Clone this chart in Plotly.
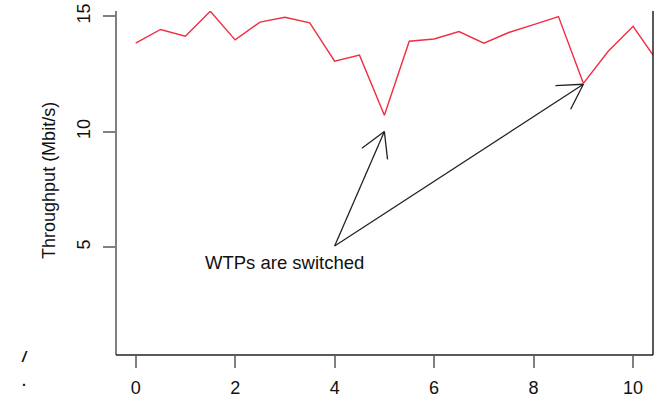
import math
import plotly.graph_objects as go

# Throughput samples (Mbit/s), one every half time unit
time = [0, 0.5, 1, 1.5, 2, 2.5, 3, 3.5, 4, 4.5, 5, 5.5, 6, 6.5, 7, 7.5, 8, 8.5, 9, 9.5, 10, 10.5]
throughput = [13.83, 14.42, 14.13, 15.21, 13.97, 14.74, 14.95, 14.71, 13.05, 13.31, 10.71,
              13.91, 14.01, 14.33, 13.83, 14.29, 14.63, 14.98, 12.09, 13.48, 14.56, 13.0]

x_ticks = [0, 2, 4, 6, 8, 10]
y_ticks = [5, 10, 15]
y_tick_labels = ["5", "10", "15"]

# Switch events: arrow from the caption towards each dip
arrow_tail = (4.0, 5.05)
arrow_tips = [(5.0, 10.0), (9.0, 12.05)]
caption = "WTPs are switched"

W, H = 660, 400
ML, MR, MT, MB = 116, 7, 11, 45
XR = [-0.395, 10.40]
YR = [0.33, 15.22]
PW, PH = W - ML - MR, H - MT - MB

FONT = "Liberation Sans, Arial, Helvetica, sans-serif"


def to_px(x, y):
    px = ML + (x - XR[0]) / (XR[1] - XR[0]) * PW
    py = MT + (YR[1] - y) / (YR[1] - YR[0]) * PH
    return px, py


def to_data(px, py):
    x = XR[0] + (px - ML) / PW * (XR[1] - XR[0])
    y = YR[1] - (py - MT) / PH * (YR[1] - YR[0])
    return x, y


fig = go.Figure()
fig.add_trace(go.Scatter(
    x=time, y=throughput, mode="lines",
    line=dict(color="#f02d44", width=1.4),
    hoverinfo="skip", showlegend=False,
))

shapes = []
arrow_style = dict(color="#222222", width=1.3)
head_len, head_ang = 28, math.radians(30)
for tip in arrow_tips:
    shapes.append(dict(type="line", xref="x", yref="y",
                       x0=arrow_tail[0], y0=arrow_tail[1], x1=tip[0], y1=tip[1],
                       line=arrow_style))
    tx, ty = to_px(*tip)
    sx, sy = to_px(*arrow_tail)
    back = math.atan2(sy - ty, sx - tx)
    for s in (-1, 1):
        a = back + s * head_ang
        hx, hy = to_data(tx + head_len * math.cos(a), ty + head_len * math.sin(a))
        shapes.append(dict(type="line", xref="x", yref="y",
                           x0=tip[0], y0=tip[1], x1=hx, y1=hy, line=arrow_style))

# plot frame: grey left axis line, dark bottom and right edges
shapes.append(dict(type="line", xref="paper", yref="paper", x0=0, y0=0, x1=0, y1=1,
                   line=dict(color="#808080", width=2)))
shapes.append(dict(type="line", xref="paper", yref="paper", x0=0, y0=0, x1=1, y1=0,
                   line=dict(color="#222222", width=1.5)))
shapes.append(dict(type="line", xref="paper", yref="paper", x0=1, y0=0, x1=1, y1=1,
                   line=dict(color="#222222", width=1.5)))

annotations = [
    dict(x=3.0, y=4.32, xref="x", yref="y", text=caption, showarrow=False,
         font=dict(family=FONT, size=18.5, color="#111111")),
    dict(x=0, y=0.506, xref="paper", yref="paper", xshift=-79, text="Throughput (Mbit/s)",
         textangle=-90, showarrow=False, font=dict(family=FONT, size=18, color="#111111")),
    dict(x=0, y=0, xref="paper", yref="paper", xshift=-97, yshift=-12, text="<b><i>/</i></b>",
         showarrow=False, font=dict(family=FONT, size=15, color="#111111")),
    dict(x=0, y=0, xref="paper", yref="paper", xshift=-96, yshift=-36, text="<b>.</b>",
         showarrow=False, font=dict(family=FONT, size=14, color="#111111")),
]

fig.update_layout(
    width=W, height=H,
    margin=dict(l=ML, r=MR, t=MT, b=MB, autoexpand=False),
    paper_bgcolor="white", plot_bgcolor="white",
    shapes=shapes, annotations=annotations,
    xaxis=dict(range=XR, tickvals=x_ticks, ticks="outside", ticklen=12, tickwidth=2,
               tickcolor="#808080", showgrid=False, zeroline=False, showline=False,
               automargin=False,
               tickfont=dict(family=FONT, size=18, color="#111111"), ticklabelstandoff=4),
    yaxis=dict(range=YR, tickvals=y_ticks, ticktext=y_tick_labels, ticks="outside",
               ticklen=12, tickwidth=2, tickcolor="#808080", showgrid=False,
               zeroline=False, showline=False, tickangle=-90, automargin=False,
               tickfont=dict(family=FONT, size=18, color="#111111"), ticklabelstandoff=6),
)

fig.write_html("out.html")
